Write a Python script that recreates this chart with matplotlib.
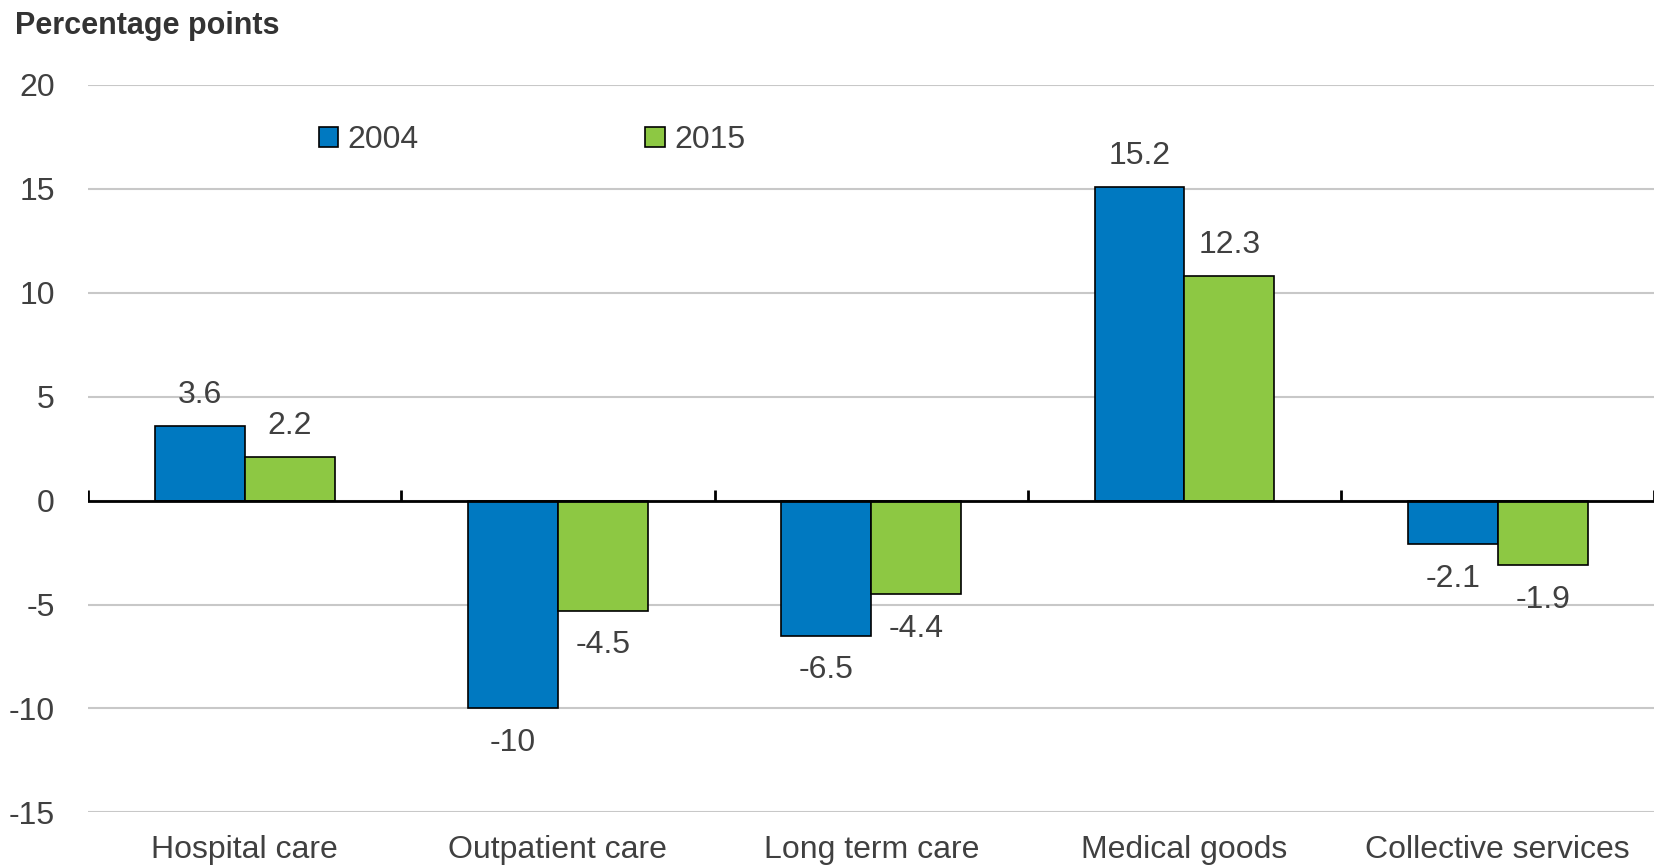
import numpy as np
import matplotlib
matplotlib.use("Agg")
import matplotlib.pyplot as plt
from matplotlib import font_manager

# data
categories = ["Hospital care", "Outpatient care", "Long term care",
              "Medical goods", "Collective services"]
series = ["2004", "2015"]
bars_2004 = [3.6, -10.0, -6.5, 15.1, -2.1]
bars_2015 = [2.1, -5.3, -4.5, 10.8, -3.1]
labels_2004 = ["3.6", "-10", "-6.5", "15.2", "-2.1"]
labels_2015 = ["2.2", "-4.5", "-4.4", "12.3", "-1.9"]
yticks = [-15, -10, -5, 0, 5, 10, 15, 20]

names = {f.name for f in font_manager.fontManager.ttflist}
fam = ["Liberation Sans Narrow", "Liberation Sans", "DejaVu Sans"]
fam = [f for f in fam if f in names] + ["DejaVu Sans"]
plt.rcParams["font.family"] = fam

txt = "#404040"
blue = "#0079C1"
green = "#8DC843"

fig = plt.figure(figsize=(16.61, 8.68), dpi=100)
ax = fig.add_axes([0.053, 0.064, 0.943, 0.8385])

x = np.arange(len(categories))
w = 0.287
b1 = ax.bar(x - w / 2, bars_2004, w, color=blue, edgecolor="black", lw=1.2,
            label=series[0], zorder=3)
b2 = ax.bar(x + w / 2, bars_2015, w, color=green, edgecolor="black", lw=1.2,
            label=series[1], zorder=3)

for bars, labs in ((b1, labels_2004), (b2, labels_2015)):
    for bar, lab in zip(bars, labs):
        h = bar.get_height()
        off = 22 if h >= 0 else -25
        ax.annotate(lab, (bar.get_x() + bar.get_width() / 2, h),
                    xytext=(0, off), textcoords="offset points",
                    ha="center", va="center", fontsize=23, color=txt)

ax.set_xlim(-0.5, len(categories) - 0.5)
ax.set_ylim(-15, 20)
ax.set_yticks(yticks)
ax.set_yticklabels([str(t) for t in yticks])
ax.grid(axis="y", color="#C8C8C8", lw=1.5, zorder=0)
ax.set_axisbelow(True)
for s in ax.spines.values():
    s.set_visible(False)

ax.set_xticks(x)
ax.set_xticklabels(categories)
ax.tick_params(axis="x", length=0, pad=16, labelsize=23, colors=txt)
ax.tick_params(axis="y", length=0, pad=24, labelsize=23, colors=txt)

# zero line with small upward ticks at category boundaries
ax.axhline(0, color="black", lw=2, zorder=4)
bounds = np.arange(len(categories) + 1) - 0.5
ax.vlines(bounds, 0, 0.5, color="black", lw=2, zorder=4)

ax.legend(loc="upper left", bbox_to_anchor=(0.139, 0.962), ncol=2,
          frameon=False, fontsize=23, handlelength=0.6, handleheight=0.6,
          handletextpad=0.3, columnspacing=7.1, labelcolor=txt,
          borderaxespad=0)

fig.text(0.009, 0.970, "Percentage points", fontsize=22, fontweight="bold",
         color="#333333", ha="left", va="center")

fig.savefig("out.png", dpi=100)
